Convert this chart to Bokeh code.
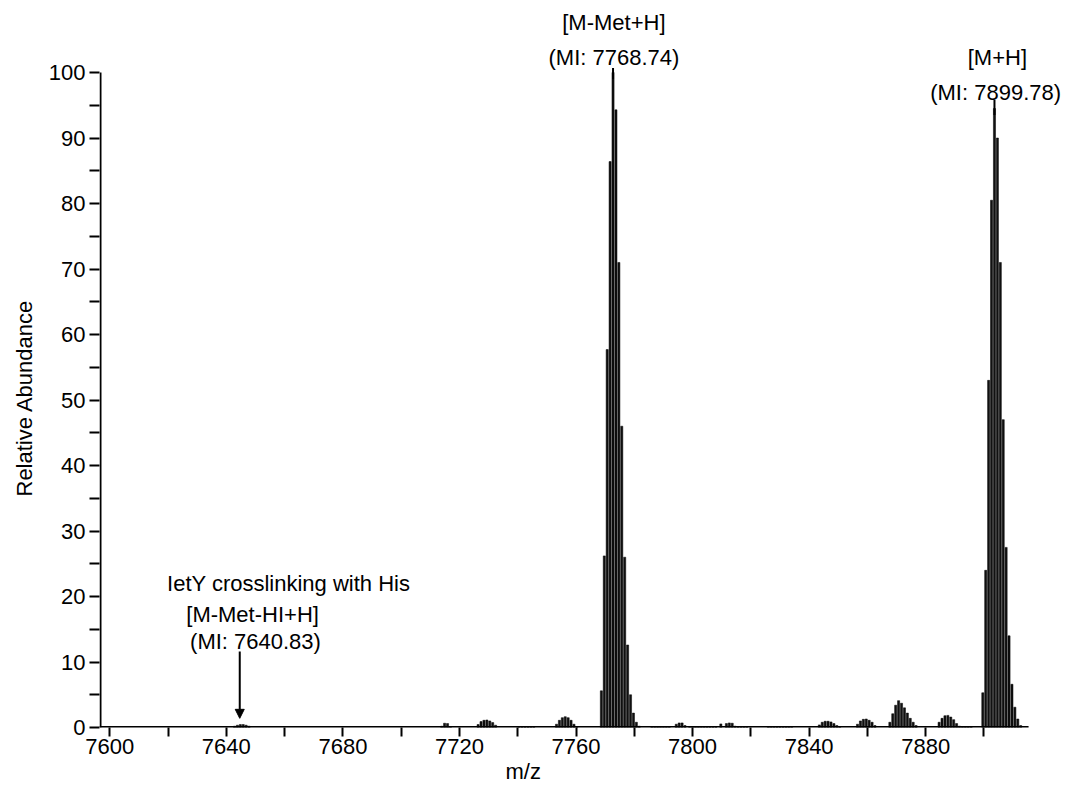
import math
from bokeh.plotting import figure
from bokeh.models import Range1d, FixedTicker, Label, Arrow, NormalHead, Title
from bokeh.embed import file_html
from bokeh.resources import INLINE

FONT = "Liberation Sans"

# ---- data (m/z, relative abundance) ----
main_mz = [7768.7, 7769.7, 7770.7, 7771.7, 7772.7, 7773.7, 7774.7, 7775.7,
           7776.7, 7777.7, 7778.7, 7779.7, 7780.7, 7781.7]
main_ab = [5.6, 26.2, 57.7, 86.4, 100.0, 94.3, 71.0, 46.0,
           26.0, 12.6, 5.0, 2.2, 0.8, 0.2]

mh_mz = [7899.6, 7900.6, 7901.6, 7902.6, 7903.6, 7904.6, 7905.6, 7906.6,
         7907.6, 7908.6, 7909.6, 7910.6, 7911.6, 7912.6]
mh_ab = [5.3, 24.0, 53.0, 80.5, 94.5, 90.0, 71.0, 47.0,
         27.5, 14.0, 6.6, 3.1, 1.3, 0.3]

minor_mz = [7642.8, 7643.8, 7644.8, 7645.8, 7646.8, 7647.8,
            7713.9, 7714.9, 7715.9, 7716.9,
            7726.4, 7727.4, 7728.4, 7729.4, 7730.4, 7731.4, 7732.4,
            7753.3, 7754.3, 7755.3, 7756.3, 7757.3, 7758.3, 7759.3, 7760.3,
            7794.4, 7795.4, 7796.4, 7797.4,
            7809.7, 7811.6, 7812.6, 7813.6, 7814.6,
            7843.5, 7844.5, 7845.5, 7846.5, 7847.5, 7848.5, 7849.5, 7850.5,
            7856.6, 7857.6, 7858.6, 7859.6, 7860.6, 7861.6, 7862.6,
            7867.7, 7868.7, 7869.7, 7870.7, 7871.7, 7872.7, 7873.7, 7874.7, 7875.7, 7876.7,
            7884.6, 7885.6, 7886.6, 7887.6, 7888.6, 7889.6, 7890.6, 7891.6]
minor_ab = [0.2, 0.35, 0.45, 0.45, 0.35, 0.2,
            0.2, 0.65, 0.6, 0.15,
            0.45, 0.9, 1.1, 1.15, 1.0, 0.75, 0.35,
            0.5, 1.1, 1.5, 1.65, 1.5, 1.1, 0.5, 0.15,
            0.5, 0.7, 0.7, 0.3,
            0.55, 0.6, 0.7, 0.65, 0.2,
            0.4, 0.8, 0.95, 0.95, 0.85, 0.6, 0.3, 0.1,
            0.5, 1.0, 1.25, 1.3, 1.1, 0.8, 0.3,
            0.8, 2.1, 3.4, 4.1, 3.7, 3.0, 2.2, 1.4, 0.8, 0.3,
            0.8, 1.4, 1.8, 1.85, 1.6, 1.2, 0.6, 0.2]

noise_mz = [7740.5, 7741.5, 7742.5, 7743.5, 7744.5, 7745.5,
            7786.0, 7787.0, 7788.0, 7789.0, 7790.0, 7791.0, 7792.0,
            7799.0, 7800.0, 7801.0, 7802.0, 7803.0, 7804.0, 7805.0, 7806.0, 7807.0, 7808.0,
            7815.6, 7816.6, 7817.6, 7818.6,
            7826.0, 7827.0, 7828.0, 7829.0, 7830.0, 7831.0, 7832.0, 7833.0, 7834.0,
            7892.6, 7893.6, 7894.6, 7895.6]
noise_ab = [0.12] * len(noise_mz)

x_major = [7600, 7640, 7680, 7720, 7760, 7800, 7840, 7880]
x_minor = [7620, 7660, 7700, 7740, 7780, 7820, 7860, 7900]
y_major = [0, 10, 20, 30, 40, 50, 60, 70, 80, 90, 100]
y_minor = [5, 15, 25, 35, 45, 55, 65, 75, 85, 95]

main_label = ["[M-Met+H]", "(MI: 7768.74)"]
mh_label = ["[M+H]", "(MI: 7899.78)"]
xlink_label = ["IetY crosslinking with His", "[M-Met-HI+H]", "(MI: 7640.83)"]
x_title = "m/z"
y_title = "Relative Abundance"

# axis extents of the drawn axes (data units)
x_axis_start, x_axis_end = 7596.47, 7915.3
y_axis_start, y_axis_end = 0, 100

# ---- figure ----
W, H = 1064, 787
LEFT, RIGHT_EDGE, TOP, BOTTOM = 98, 1063, 2, 727
PX_X = 2.917   # pixels per m/z unit
PX_Y = 6.55    # pixels per abundance unit
x_end = x_axis_start + (RIGHT_EDGE - LEFT) / PX_X
y_end = (BOTTOM - TOP) / PX_Y

p = figure(width=W, height=H, output_backend="svg", toolbar_location=None,
           x_range=Range1d(x_axis_start, x_end), y_range=Range1d(0, y_end),
           min_border_left=LEFT, min_border_right=W - RIGHT_EDGE,
           min_border_top=TOP, min_border_bottom=H - BOTTOM)
p.background_fill_color = "white"
p.border_fill_color = "white"
p.outline_line_color = None
p.xgrid.visible = False
p.ygrid.visible = False

bar_kw = dict(width=0.72, bottom=0, fill_color="#111111", line_color="black",
              line_width=0.5)
p.vbar(x=noise_mz, top=noise_ab, **bar_kw)
p.vbar(x=minor_mz, top=minor_ab, **bar_kw)
p.vbar(x=main_mz, top=main_ab, **bar_kw)
p.vbar(x=mh_mz, top=mh_ab, **bar_kw)

for ax, maj, mnr in ((p.xaxis[0], x_major, x_minor), (p.yaxis[0], y_major, y_minor)):
    ax.ticker = FixedTicker(ticks=maj, minor_ticks=mnr)
    ax.axis_line_color = None
    ax.major_tick_line_width = 2
    ax.minor_tick_line_width = 2
    ax.major_tick_line_color = "black"
    ax.minor_tick_line_color = "black"
    ax.major_tick_in = 0
    ax.minor_tick_in = 0
    ax.major_label_text_font = FONT
    ax.major_label_text_font_size = "22px"
    ax.major_label_text_color = "black"
p.xaxis.major_tick_out = 9
p.xaxis.minor_tick_out = 9
p.xaxis.major_label_standoff = 2
p.yaxis.major_tick_out = 10
p.yaxis.minor_tick_out = 10
p.yaxis.major_label_standoff = 4

# axis lines (limited to the axis extents, as in the reference)
dx = 1.0 / PX_X
dy = 1.0 / PX_Y
p.segment(x0=[x_axis_start + dx], y0=[y_axis_start], x1=[x_axis_start + dx],
          y1=[y_axis_end], line_width=2, line_color="black")
p.segment(x0=[x_axis_start], y0=[dy * 0.5], x1=[x_axis_end], y1=[dy * 0.5],
          line_width=2, line_color="black")

# axis titles (placed off-centre as in the reference)
p.add_layout(Title(text=x_title, align="left", offset=406, standoff=0,
                   text_font=FONT, text_font_size="22px",
                   text_font_style="normal", text_color="black"), "below")
p.add_layout(Title(text=y_title, align="left", offset=231, standoff=18,
                   text_font=FONT, text_font_size="22px",
                   text_font_style="normal", text_color="black"), "left")


def add_text(txt, x, y):
    p.add_layout(Label(x=x, y=y, text=txt, text_align="center",
                       text_baseline="middle", text_font=FONT,
                       text_font_size="22px", text_color="black"))


# peak annotations
top_main = max(main_ab)
x_main = main_mz[main_ab.index(top_main)]
top_mh = max(mh_ab)
x_mh = mh_mz[mh_ab.index(top_mh)]

add_text(main_label[0], x_main + 0.3, 107.6)
add_text(main_label[1], x_main + 0.3, 102.3)
add_text(mh_label[0], x_mh + 1.0, 102.3)
add_text(mh_label[1], x_mh + 0.4, 96.9)

p.segment(x0=[x_main], y0=[top_main - 1], x1=[x_main], y1=[100.7],
          line_width=2, line_color="black")
p.segment(x0=[x_mh], y0=[top_mh - 1], x1=[x_mh], y1=[95.8],
          line_width=2, line_color="black")

# crosslink annotation
x_xl = 7644.6
add_text(xlink_label[0], 7661.4, 22.0)
add_text(xlink_label[1], 7649.0, 17.3)
add_text(xlink_label[2], 7650.0, 13.1)
p.add_layout(Arrow(end=NormalHead(size=9, fill_color="black", line_color="black"),
                   x_start=x_xl, y_start=11.6, x_end=x_xl, y_end=1.4,
                   line_width=2, line_color="black"))

open("out.html", "w").write(file_html(p, INLINE))
